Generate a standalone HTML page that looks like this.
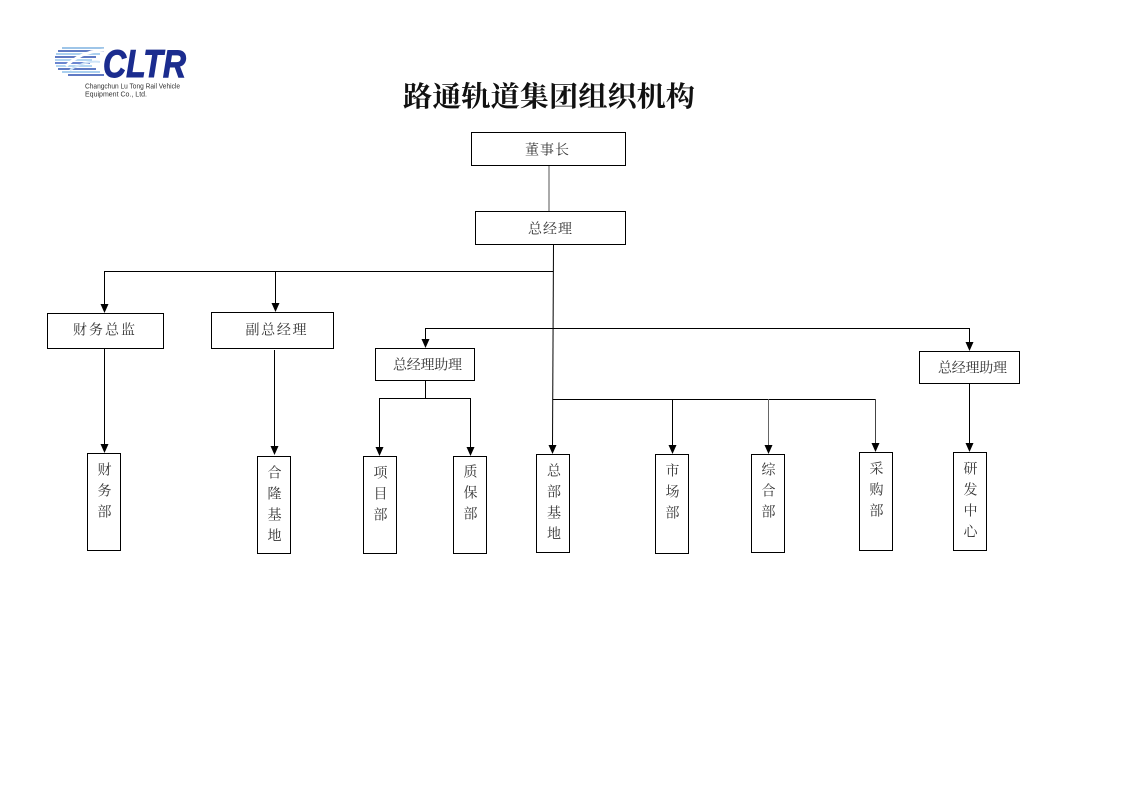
<!DOCTYPE html>
<html><head><meta charset="utf-8">
<style>
html,body{margin:0;padding:0;background:#fff;}
body{width:1123px;height:793px;overflow:hidden;}
svg{display:block;}
.t{font-family:"Liberation Serif","Noto Serif CJK SC",serif;font-size:14px;fill:#333;}
</style></head>
<body>
<svg width="1123" height="793" viewBox="0 0 1123 793" xmlns="http://www.w3.org/2000/svg">
<rect width="1123" height="793" fill="#fff"/>
<!-- Logo -->
<g>
  <g stroke-width="1.6">
    <line x1="62" y1="48" x2="104" y2="48" stroke="#7fb2e0"/>
    <line x1="58" y1="51" x2="104" y2="51" stroke="#2a4fb0"/>
    <line x1="56" y1="54" x2="100" y2="54" stroke="#8fc0ea"/>
    <line x1="55" y1="57" x2="96" y2="57" stroke="#2a4fb0"/>
    <line x1="55" y1="60" x2="92" y2="60" stroke="#9cc8ee"/>
    <line x1="55" y1="63" x2="90" y2="63" stroke="#3a5fc0"/>
    <line x1="56" y1="66" x2="92" y2="66" stroke="#9cc8ee"/>
    <line x1="58" y1="69" x2="96" y2="69" stroke="#2a4fb0"/>
    <line x1="62" y1="72" x2="100" y2="72" stroke="#8fc0ea"/>
    <line x1="68" y1="75" x2="104" y2="75" stroke="#2a4fb0"/>
  </g>
  <path d="M66 66 Q80 52 104 50" stroke="#fff" stroke-width="3" fill="none"/>
  <path d="M70 70 Q86 60 100 62" stroke="#cfe4f7" stroke-width="2" fill="none"/>
  <text x="103" y="77" font-family="Liberation Sans, sans-serif" font-weight="bold" font-style="italic" font-size="39" fill="#1b2c8f" stroke="#1b2c8f" stroke-width="1" textLength="83" lengthAdjust="spacingAndGlyphs">CLTR</text>
  <text x="85" y="88.5" font-family="Liberation Sans, sans-serif" font-size="7" fill="#333" textLength="95" lengthAdjust="spacingAndGlyphs">Changchun Lu Tong Rail Vehicle</text>
  <text x="85" y="96.5" font-family="Liberation Sans, sans-serif" font-size="7" fill="#333" textLength="62" lengthAdjust="spacingAndGlyphs">Equipment Co., Ltd.</text>
</g>

<!-- Title -->
<text x="549" y="106" text-anchor="middle" font-family="Liberation Serif, 'Noto Serif CJK SC', serif" font-weight="bold" font-size="28" fill="#111" textLength="292" lengthAdjust="spacingAndGlyphs">路通轨道集团组织机构</text>

<!-- Connectors -->
<g stroke="#000" stroke-width="1" fill="none">
  <line x1="549" y1="166" x2="549" y2="211" stroke="#555"/>
  <line x1="553.5" y1="244" x2="552.5" y2="446"/>
  <line x1="104.5" y1="271.5" x2="553" y2="271.5"/>
  <line x1="104.5" y1="271" x2="104.5" y2="305"/>
  <line x1="275.5" y1="271" x2="275.5" y2="304"/>
  <line x1="425.5" y1="328.5" x2="969.5" y2="328.5"/>
  <line x1="425.5" y1="328" x2="425.5" y2="340"/>
  <line x1="969.5" y1="328" x2="969.5" y2="343"/>
  <line x1="425.5" y1="380" x2="425.5" y2="398.5"/>
  <line x1="379.5" y1="398.5" x2="471" y2="398.5"/>
  <line x1="379.5" y1="398" x2="379.5" y2="448"/>
  <line x1="470.5" y1="398" x2="470.5" y2="448"/>
  <line x1="104.5" y1="348" x2="104.5" y2="445"/>
  <line x1="274.5" y1="350" x2="274.5" y2="447"/>
  <line x1="553" y1="399.5" x2="875.5" y2="399.5"/>
  <line x1="672.5" y1="399" x2="672.5" y2="446"/>
  <line x1="768.5" y1="399" x2="768.5" y2="446" stroke="#666"/>
  <line x1="875.5" y1="399" x2="875.5" y2="444" stroke="#444"/>
  <line x1="969.5" y1="383" x2="969.5" y2="444"/>
</g>
<!-- Arrowheads -->
<g fill="#000">
  <polygon points="100.5,304 108.5,304 104.5,313"/>
  <polygon points="271.5,303 279.5,303 275.5,312"/>
  <polygon points="421.5,339 429.5,339 425.5,348"/>
  <polygon points="965.5,342 973.5,342 969.5,351"/>
  <polygon points="375.5,447 383.5,447 379.5,456"/>
  <polygon points="466.5,447 474.5,447 470.5,456"/>
  <polygon points="100.5,444 108.5,444 104.5,453"/>
  <polygon points="270.5,446 278.5,446 274.5,455"/>
  <polygon points="548.5,445 556.5,445 552.5,454"/>
  <polygon points="668.5,445 676.5,445 672.5,454"/>
  <polygon points="764.5,445 772.5,445 768.5,454"/>
  <polygon points="871.5,443 879.5,443 875.5,452"/>
  <polygon points="965.5,443 973.5,443 969.5,452"/>
</g>

<!-- Boxes -->
<g fill="#fff" stroke="#000" stroke-width="1">
  <rect x="471.5" y="132.5" width="154" height="33"/>
  <rect x="475.5" y="211.5" width="150" height="33"/>
  <rect x="47.5" y="313.5" width="116" height="35"/>
  <rect x="211.5" y="312.5" width="122" height="36"/>
  <rect x="375.5" y="348.5" width="99" height="32"/>
  <rect x="919.5" y="351.5" width="100" height="32"/>
  <rect x="87.5" y="453.5" width="33" height="97"/>
  <rect x="257.5" y="456.5" width="33" height="97"/>
  <rect x="363.5" y="456.5" width="33" height="97"/>
  <rect x="453.5" y="456.5" width="33" height="97"/>
  <rect x="536.5" y="454.5" width="33" height="98"/>
  <rect x="655.5" y="454.5" width="33" height="99"/>
  <rect x="751.5" y="454.5" width="33" height="98"/>
  <rect x="859.5" y="452.5" width="33" height="98"/>
  <rect x="953.5" y="452.5" width="33" height="98"/>
</g>

<!-- Horizontal labels -->
<g class="t" text-anchor="middle" dominant-baseline="central">
  <text x="547" y="151" textLength="44" lengthAdjust="spacing">董事长</text>
  <text x="550" y="230" textLength="44" lengthAdjust="spacing">总经理</text>
  <text x="104" y="331" textLength="62" lengthAdjust="spacing">财务总监</text>
  <text x="276" y="331" textLength="61" lengthAdjust="spacing">副总经理</text>
  <text x="427.5" y="366" textLength="69" lengthAdjust="spacing">总经理助理</text>
  <text x="972.5" y="369" textLength="69" lengthAdjust="spacing">总经理助理</text>
</g>

<!-- Vertical labels -->
<g class="t" text-anchor="middle" dominant-baseline="central">
  <text x="104.5" y="471">财</text><text x="104.5" y="492">务</text><text x="104.5" y="513">部</text>
  <text x="274.5" y="474">合</text><text x="274.5" y="495">隆</text><text x="274.5" y="516">基</text><text x="274.5" y="537">地</text>
  <text x="380.5" y="474">项</text><text x="380.5" y="495">目</text><text x="380.5" y="516">部</text>
  <text x="470.5" y="473">质</text><text x="470.5" y="494">保</text><text x="470.5" y="515">部</text>
  <text x="554" y="472">总</text><text x="554" y="493">部</text><text x="554" y="514">基</text><text x="554" y="535">地</text>
  <text x="672.5" y="472">市</text><text x="672.5" y="493">场</text><text x="672.5" y="514">部</text>
  <text x="768.5" y="471">综</text><text x="768.5" y="492">合</text><text x="768.5" y="513">部</text>
  <text x="876.5" y="470">采</text><text x="876.5" y="491">购</text><text x="876.5" y="512">部</text>
  <text x="970.5" y="470">研</text><text x="970.5" y="491">发</text><text x="970.5" y="512">中</text><text x="970.5" y="533">心</text>
</g>
</svg>
</body></html>
